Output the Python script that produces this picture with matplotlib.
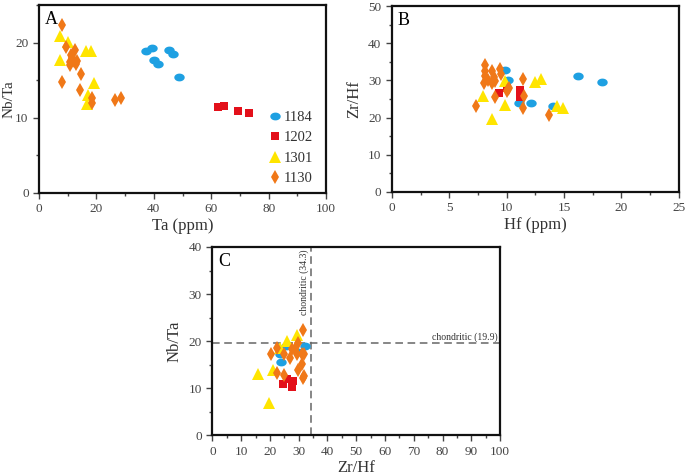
import matplotlib
matplotlib.use("Agg")
import matplotlib.pyplot as plt
from matplotlib.ticker import MultipleLocator
from matplotlib.path import Path
import numpy as np

plt.rcParams['font.family'] = ['Liberation Serif', 'DejaVu Serif']

# sample groups
groups = ['1184', '1202', '1301', '1130']
colors = {'1184': '#1ea0e2', '1202': '#e3101a', '1301': '#ffe500', '1130': '#f07818'}

# flattened ellipse for the blue points
t = np.linspace(0, 2 * np.pi, 40)
ellipse = Path(np.column_stack([np.cos(t), 0.75 * np.sin(t)]), closed=True)
markers = {'1184': ellipse, '1202': 's', '1301': '^', '1130': 'd'}
msizes = {'1184': 7.5, '1202': 5.5, '1301': 8, '1130': 7.5}

# Panel A: Ta (ppm) vs Nb/Ta
ta = {
    '1184': [37.1, 39.4, 40.1, 41.5, 45.3, 46.5, 48.8],
    '1202': [62.3, 64.4, 69.2, 73.3],
    '1301': [7.3, 10.0, 7.3, 16.2, 18.1, 19.1, 17.2, 16.7],
    '1130': [8.1, 9.5, 8.1, 12.4, 11.0, 10.7, 12.1, 13.3, 12.8, 10.7, 14.7, 14.4, 18.4, 18.5, 26.3, 28.4, 11.6],
}
nbta_a = {
    '1184': [18.9, 19.25, 17.75, 17.2, 19.0, 18.5, 15.5],
    '1202': [11.45, 11.6, 10.9, 10.6],
    '1301': [20.9, 20.1, 17.75, 18.9, 18.9, 14.7, 13.0, 11.8],
    '1130': [22.4, 19.5, 14.8, 19.1, 18.4, 17.5, 17.6, 17.6, 17.2, 17.0, 15.9, 13.7, 12.6, 12.0, 12.4, 12.7, 18.0],
}

# Panel B: Hf (ppm) vs Zr/Hf
hf = {
    '1184': [9.9, 10.1, 11.1, 12.1, 14.05, 16.2, 18.3],
    '1202': [9.36, 10.0, 11.15, 11.15],
    '1301': [7.97, 8.75, 9.9, 9.9, 12.5, 13.0, 14.4, 14.95],
    '1130': [7.3, 8.1, 8.1, 8.1, 8.05, 8.7, 8.9, 8.7, 9.0, 9.4, 9.5, 9.0, 10.1, 10.2, 10.0, 11.4, 11.5, 11.4, 13.7, 8.4],
}
zrhf_b = {
    '1184': [32.9, 30.0, 23.8, 24.0, 23.2, 31.1, 29.6],
    '1202': [26.7, 28.0, 27.4, 25.6],
    '1301': [25.9, 19.5, 23.4, 29.8, 29.6, 30.3, 23.1, 22.7],
    '1130': [23.2, 34.1, 32.6, 31.1, 29.4, 32.5, 31.0, 29.4, 29.9, 33.0, 31.7, 25.6, 27.6, 28.1, 27.2, 30.3, 25.9, 22.7, 20.6, 30.1],
}

# Panel C: Zr/Hf vs Nb/Ta
zrhf_c = {
    '1184': [25.5, 23.5, 23.9, 32.2, 29.9],
    '1202': [24.4, 27.6, 27.9, 25.8],
    '1301': [15.8, 19.8, 21.2, 23.5, 25.8, 29.3],
    '1130': [31.4, 20.5, 22.4, 25.0, 25.0, 22.6, 27.0, 28.7, 29.6, 29.3, 31.0, 31.9, 31.0, 29.6, 31.6, 31.9, 27.8],
}
nbta_c = {
    '1184': [18.9, 17.3, 15.6, 18.9, 17.6],
    '1202': [10.8, 10.3, 11.5, 11.9],
    '1301': [12.9, 6.9, 13.8, 18.5, 20.0, 21.2],
    '1130': [22.3, 17.3, 18.5, 17.3, 12.7, 13.1, 16.3, 18.4, 19.5, 17.3, 17.3, 17.3, 15.2, 13.8, 12.2, 12.6, 18.4],
}

chond_zrhf = 34.3
chond_nbta = 19.5

fig = plt.figure(figsize=(6.85, 4.75), dpi=100)
axA = fig.add_axes([0.057, 0.594, 0.419, 0.395])
axB = fig.add_axes([0.572, 0.596, 0.419, 0.391])
axC = fig.add_axes([0.310, 0.084, 0.420, 0.396])


def style(ax):
    for s in ax.spines.values():
        s.set_linewidth(1.6)
        s.set_color('#111111')
    ax.tick_params(which='both', direction='out', top=False, right=False,
                   labelsize=9.5, labelcolor='#444444', color='#444444')
    ax.tick_params(which='major', length=4, width=1)
    ax.tick_params(which='minor', length=2.5, width=1)


def draw(ax, xs, ys):
    for g in groups:
        ax.plot(xs[g], ys[g], linestyle='none', marker=markers[g], ms=msizes[g],
                color=colors[g], markeredgewidth=0, label=g)


draw(axA, ta, nbta_a)
axA.set_xlim(0, 100)
axA.set_ylim(0, 25)
axA.xaxis.set_major_locator(MultipleLocator(20))
axA.xaxis.set_minor_locator(MultipleLocator(10))
axA.yaxis.set_major_locator(MultipleLocator(10))
axA.yaxis.set_minor_locator(MultipleLocator(5))
axA.set_xlabel('Ta (ppm)', fontsize=12, color='#333333', labelpad=2)
axA.set_ylabel('Nb/Ta', fontsize=11, color='#333333')
axA.yaxis.set_label_coords(-0.082, 0.5)
axA.text(0.02, 0.97, 'A', transform=axA.transAxes, fontsize=13, va='top', ha='left')
axA.legend(loc='lower right', bbox_to_anchor=(1.0, -0.03), frameon=False, fontsize=10.5,
           handletextpad=0.0, handlelength=1.2, labelspacing=0.5, labelcolor='#333333')
style(axA)

draw(axB, hf, zrhf_b)
axB.set_xlim(0, 25)
axB.set_ylim(0, 50)
axB.xaxis.set_major_locator(MultipleLocator(5))
axB.xaxis.set_minor_locator(MultipleLocator(2.5))
axB.yaxis.set_major_locator(MultipleLocator(10))
axB.yaxis.set_minor_locator(MultipleLocator(5))
axB.set_xlabel('Hf (ppm)', fontsize=12, color='#333333', labelpad=2)
axB.set_ylabel('Zr/Hf', fontsize=12, color='#333333', labelpad=4)
axB.text(0.02, 0.97, 'B', transform=axB.transAxes, fontsize=13, va='top', ha='left')
style(axB)

axC.axvline(chond_zrhf, color='#666666', linestyle=(0, (5, 3)), linewidth=1.1, zorder=1)
axC.axhline(chond_nbta, color='#666666', linestyle=(0, (5, 3)), linewidth=1.1, zorder=1)
draw(axC, zrhf_c, nbta_c)
axC.text(chond_zrhf - 0.8, 39.5, 'chondritic (34.3)', rotation=90, ha='right', va='top',
         fontsize=7, color='#333333')
axC.text(99, chond_nbta + 0.4, 'chondritic (19.9)', ha='right', va='bottom',
         fontsize=7, color='#333333')
axC.set_xlim(0, 100)
axC.set_ylim(0, 40)
axC.xaxis.set_major_locator(MultipleLocator(10))
axC.xaxis.set_minor_locator(MultipleLocator(5))
axC.yaxis.set_major_locator(MultipleLocator(10))
axC.yaxis.set_minor_locator(MultipleLocator(5))
axC.set_xlabel('Zr/Hf', fontsize=12, color='#333333', labelpad=2)
axC.set_ylabel('Nb/Ta', fontsize=12, color='#333333', labelpad=4)
axC.text(0.02, 0.97, 'C', transform=axC.transAxes, fontsize=13, va='top', ha='left')
style(axC)

fig.savefig('out.png', dpi=100)
